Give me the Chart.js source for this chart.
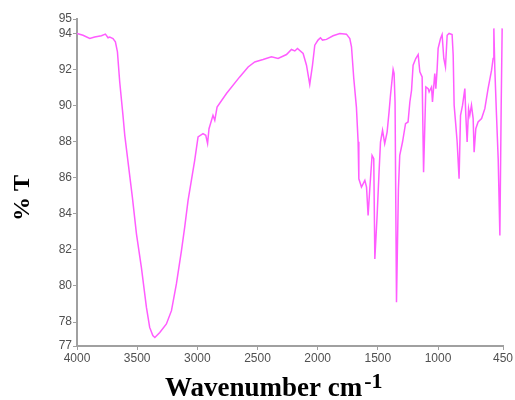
<!DOCTYPE html>
<html>
<head>
<meta charset="utf-8">
<script src="https://cdn.jsdelivr.net/npm/chart.js@4"></script>
<style>
  html, body { margin: 0; padding: 0; background: #fff; }
  #wrap { width: 515px; height: 400px; }
</style>
</head>
<body>
<div id="wrap"><canvas id="chart-ir"></canvas></div>
<script>
// IR spectrum, wavenumber (cm-1) vs transmittance (%)
var wavenumbers = [
    4000, 3950, 3894, 3853, 3797, 3764, 3742, 3728, 3701, 3681, 3664, 3645, 3618, 3603,
    3540, 3506, 3465, 3423, 3396, 3370, 3353, 3312, 3257, 3215, 3174, 3132, 3105, 3077,
    3022, 2994, 2953, 2930, 2915, 2903, 2870, 2855, 2836, 2758, 2648, 2578, 2523, 2454,
    2384, 2329, 2259, 2218, 2190, 2168, 2121, 2093, 2066, 2043, 2024, 1997, 1977, 1960,
    1927, 1872, 1816, 1761, 1733, 1719, 1700, 1678, 1664, 1658, 1636, 1608, 1594, 1581,
    1567, 1548, 1534, 1525, 1506, 1490, 1478, 1461, 1443, 1423, 1407, 1395, 1378, 1373,
    1365, 1357, 1345, 1329, 1318, 1295, 1270, 1249, 1234, 1220, 1207, 1185, 1165, 1151,
    1132, 1120, 1101, 1082, 1074, 1054, 1046, 1027, 1018, 1007, 999, 979, 966, 952,
    938, 924, 908, 883, 874, 866, 852, 841, 825, 813, 796, 777, 769, 758,
    746, 736, 722, 708, 700, 686, 667, 638, 611, 584, 555, 542, 536, 528,
    514, 500, 486, 475, 467
];
var transmittance = [
    94.0, 93.9, 93.72, 93.8, 93.87, 93.96, 93.76, 93.8, 93.72, 93.53, 92.98, 91.31, 89.46, 88.35,
    84.92, 82.89, 81.03, 78.81, 77.7, 77.25, 77.14, 77.42, 77.89, 78.63, 80.11, 81.96, 83.26, 84.74,
    86.96, 88.26, 88.44, 88.35, 87.9, 88.72, 89.46, 89.18, 89.92, 90.67, 91.59, 92.14, 92.42, 92.55,
    92.7, 92.61, 92.83, 93.11, 93.03, 93.17, 92.89, 92.24, 91.17, 92.24, 93.35, 93.63, 93.76, 93.63,
    93.67, 93.87, 94.0, 93.96, 93.72, 93.26, 91.5, 89.9, 88.0, 85.94, 85.48, 85.85, 85.48, 83.91,
    85.39, 87.24, 87.06, 81.5, 83.91, 86.31, 87.98, 88.63, 87.89, 88.53, 89.64, 90.57, 91.68, 92.0,
    91.78, 90.2, 79.09, 85.39, 87.24, 87.98, 89.0, 89.09, 90.2, 90.85, 92.24, 92.61, 92.83, 91.87,
    91.59, 86.3, 91.03, 90.94, 90.76, 91.03, 90.2, 91.78, 90.94, 92.06, 93.17, 93.72, 93.94, 92.61,
    92.14, 93.9, 94.0, 93.94, 92.8, 90.02, 88.9, 87.98, 85.94, 89.46, 90.02, 90.94, 89.46, 87.98,
    89.83, 89.46, 90.02, 89.28, 87.42, 88.72, 89.09, 89.28, 89.83, 90.94, 91.96, 92.61, 94.28, 92.06,
    89.46, 87.06, 82.8, 90.0, 94.28
];

var xMin = 460, xMax = 4000;
var xTicks = [460, 1000, 1500, 2000, 2500, 3000, 3500, 4000];
var yMin = 76.67, yMax = 94.8;
var yTicks = [76.67, 78, 80, 82, 84, 86, 88, 90, 92, 94, 94.8];

var points = wavenumbers.map(function (wn, i) {
    return { x: wn, y: transmittance[i] };
});

var axisColor = '#a0a0a0';
var tickFont = { family: 'Liberation Sans', size: 12 };

// axis titles: rotated "% T" and "Wavenumber cm" with raised "-1"
var axisTitles = {
    id: 'axisTitles',
    afterDraw: function (chart) {
        var ctx = chart.ctx;
        ctx.save();
        ctx.fillStyle = '#000';

        ctx.translate(23, 198);
        ctx.rotate(-Math.PI / 2);
        ctx.font = 'bold 24px "Liberation Serif"';
        ctx.textAlign = 'center';
        ctx.textBaseline = 'middle';
        ctx.fillText('% T', 0, 0);
        ctx.setTransform(1, 0, 0, 1, 0, 0);

        ctx.font = 'bold 27px "Liberation Serif"';
        ctx.textAlign = 'left';
        ctx.textBaseline = 'alphabetic';
        var main = 'Wavenumber cm';
        ctx.fillText(main, 165, 396);
        var w = ctx.measureText(main).width;
        ctx.font = 'bold 22px "Liberation Serif"';
        ctx.fillText('-1', 165 + w + 2, 388);
        ctx.restore();
    }
};

new Chart(document.getElementById('chart-ir'), {
    type: 'line',
    data: {
        datasets: [{
            data: points,
            borderColor: '#ff5cff',
            borderWidth: 1.5,
            pointRadius: 0,
            tension: 0,
            fill: false
        }]
    },
    options: {
        responsive: true,
        maintainAspectRatio: false,
        animation: false,
        layout: { padding: { top: 19, right: 12, left: 0, bottom: 0 } },
        plugins: {
            legend: { display: false },
            tooltip: { enabled: false }
        },
        scales: {
            x: {
                type: 'linear',
                reverse: true,
                min: xMin,
                max: xMax,
                afterBuildTicks: function (scale) {
                    scale.ticks = xTicks.map(function (v) { return { value: v }; });
                },
                afterFit: function (scale) { scale.height = 54; },
                grid: { drawOnChartArea: false, drawTicks: true, tickLength: 4, color: axisColor },
                border: { color: axisColor, width: 2 },
                ticks: {
                    autoSkip: false,
                    maxRotation: 0,
                    padding: 1,
                    color: '#505050',
                    font: tickFont,
                    callback: function (value) { return value === xMin ? '450' : value; }
                }
            },
            y: {
                min: yMin,
                max: yMax,
                afterBuildTicks: function (scale) {
                    scale.ticks = yTicks.map(function (v) { return { value: v }; });
                },
                afterFit: function (scale) { scale.width = 77; },
                grid: { drawOnChartArea: false, drawTicks: true, tickLength: 4, color: axisColor },
                border: { color: axisColor, width: 2 },
                ticks: {
                    autoSkip: false,
                    padding: 1,
                    color: '#505050',
                    font: tickFont,
                    callback: function (value) {
                        if (value === yMin) return '77';
                        if (value === yMax) return '95';
                        return value;
                    }
                }
            }
        }
    },
    plugins: [axisTitles]
});
</script>
</body>
</html>
